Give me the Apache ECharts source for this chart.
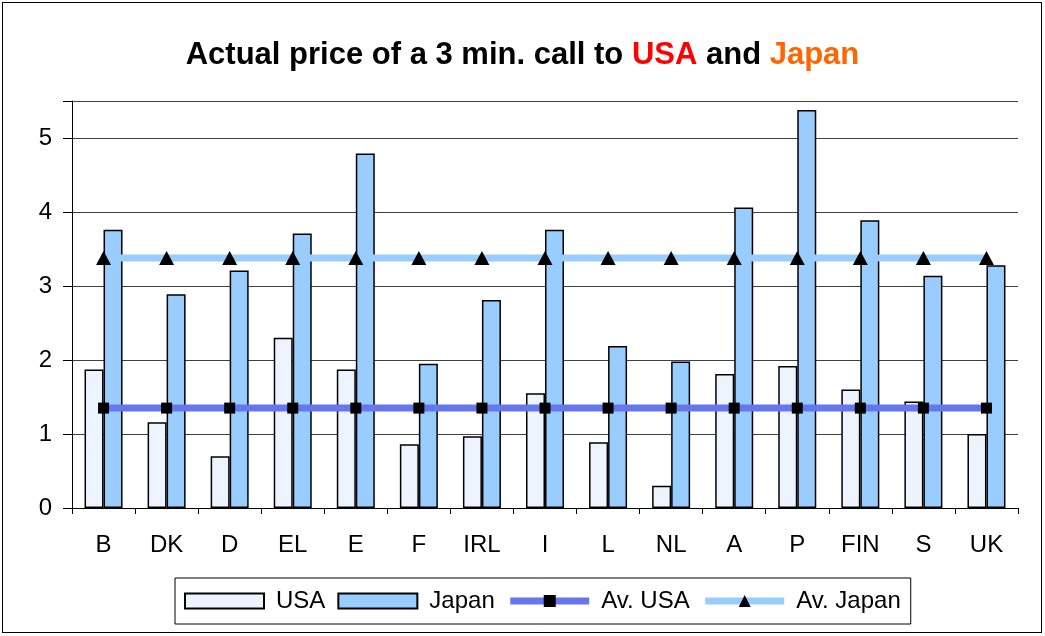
<!DOCTYPE html>
<html>
<head>
<meta charset="utf-8">
<script src="https://cdn.jsdelivr.net/npm/echarts@6/dist/echarts.min.js"></script>
<style>
html,body{margin:0;padding:0;background:#fff;}
#frame{position:absolute;left:2px;top:2px;width:1040px;height:631px;border:1px solid #000;box-sizing:border-box;}
#chart{position:absolute;left:0;top:0;width:1045px;height:636px;}
</style>
</head>
<body>
<div id="frame"></div>
<div id="chart"></div>
<script>
const categories = ['B','DK','D','EL','E','F','IRL','I','L','NL','A','P','FIN','S','UK'];
const usa = [1.87,1.16,0.70,2.30,1.87,0.86,0.97,1.55,0.89,0.30,1.81,1.92,1.60,1.44,1.00];
const japan = [3.76,2.89,3.21,3.71,4.79,1.95,2.81,3.76,2.19,1.98,4.06,5.38,3.89,3.14,3.28];
const avUsa = [1.35,1.35,1.35,1.35,1.35,1.35,1.35,1.35,1.35,1.35,1.35,1.35,1.35,1.35,1.35];
const avJapan = [3.38,3.38,3.38,3.38,3.38,3.38,3.38,3.38,3.38,3.38,3.38,3.38,3.38,3.38,3.38];
const yTicks = [0,1,2,3,4,5];

const font = 'Liberation Sans, Arial, sans-serif';
const chart = echarts.init(document.getElementById('chart'), null, {renderer:'canvas'});
chart.setOption({
  animation:false,
  backgroundColor:'transparent',
  textStyle:{fontFamily:font},
  title:{
    left:'center', top:35,
    text:'{b|Actual price of a 3 min. call to }{r|USA}{b| and }{o|Japan}',
    textStyle:{
      rich:{
        b:{fontFamily:font,fontWeight:'bold',fontSize:31,color:'#000'},
        r:{fontFamily:font,fontWeight:'bold',fontSize:31,color:'#ff0000'},
        o:{fontFamily:font,fontWeight:'bold',fontSize:31,color:'#ff6600'}
      }
    }
  },
  legend:{
    left:175, top:578,
    borderColor:'#000', borderWidth:1, padding:[11,10,11,9],
    itemGap:12, itemWidth:79, itemHeight:15,
    textStyle:{fontFamily:font,fontSize:24,color:'#000',padding:[0,0,0,7]},
    data:[
      {name:'USA',icon:'rect'},
      {name:'Japan',icon:'rect'},
      {name:'Av. USA',lineStyle:{width:7}},
      {name:'Av. Japan',lineStyle:{width:7}}
    ]
  },
  grid:{left:72,right:27,top:101,bottom:128,containLabel:false},
  xAxis:{
    type:'category', data:categories,
    axisLine:{lineStyle:{color:'#000',width:1}},
    axisTick:{show:true,length:6,lineStyle:{color:'#000'}},
    axisLabel:{fontFamily:font,fontSize:24,color:'#000',margin:25}
  },
  yAxis:{
    type:'value', min:0, max:5.5, interval:1,
    axisLine:{show:true,lineStyle:{color:'#000',width:1}},
    axisTick:{show:true,length:9,lineStyle:{color:'#000'}},
    axisLabel:{fontFamily:font,fontSize:24,color:'#000',margin:20,
      formatter:function(v){return yTicks.indexOf(v)>=0?String(v):'';}},
    splitLine:{show:true,lineStyle:{color:'#404040',width:1}}
  },
  series:[
    {name:'USA',type:'bar',data:usa,barWidth:19,barGap:'0%',
      itemStyle:{color:'#eef4ff',borderColor:'#000',borderWidth:1.5}},
    {name:'Japan',type:'bar',data:japan,barWidth:19,barGap:'0%',
      itemStyle:{color:'#99ccff',borderColor:'#000',borderWidth:1.5}},
    {name:'Av. USA',type:'line',data:avUsa,symbol:'rect',symbolSize:11,
      lineStyle:{color:'#6677ee',width:7},itemStyle:{color:'#000'},z:5},
    {name:'Av. Japan',type:'line',data:avJapan,symbol:'triangle',symbolSize:[15,14],
      lineStyle:{color:'#99ccff',width:7},itemStyle:{color:'#000'},z:6}
  ]
});
</script>
</body>
</html>
